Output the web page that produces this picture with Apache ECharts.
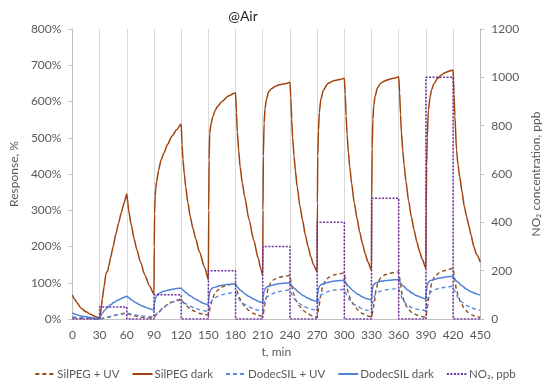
<!DOCTYPE html>
<html><head><meta charset="utf-8">
<script src="https://cdn.jsdelivr.net/npm/echarts@6/dist/echarts.min.js"></script>
<style>html,body{margin:0;padding:0;background:#fff}#c{width:550px;height:389px}</style>
</head><body><div id="c"></div>
<script>
const xTicks = [0,30,60,90,120,150,180,210,240,270,300,330,360,390,420,450];
const legendNames = ['SilPEG + UV','SilPEG dark','DodecSIL + UV','DodecSIL dark','NO\u2082, ppb'];

// NO2 concentration steps [start time, ppb]
const no2Steps = [[0,0],[30,50],[60,0],[90,100],[120,0],[150,200],[180,0],[210,300],[240,0],[270,400],[300,0],[330,500],[360,0],[390,1000],[420,0],[450,0]];

// SilPEG dark [t, %]
const silpegDark = [[0,66],[2,56],[5,45],[10,29],[15,20],[20,13],[25,7],[30,2],
[31,15],[32,35],[33,55],[35,90],[37,125],[38,130],[39,132],[40,145],[42,168],[45,200],[48,235],[51,265],[54,294],[57,320],[60,345],
[61,325],[62,300],[65,259],[68,222],[71,192],[75,158],[80,121],[85,92],[90,68],
[90.3,200],[90.7,290],[91.3,340],[92,360],[93,380],[95,410],[98,440],[101,458],[105,482],[110,505],[115,522],[120,538],
[121,480],[122,440],[123.5,400],[125,365],[127.5,320],[130,282],[133,250],[136,222],[140,186],[146,142],[150,108],
[150.4,300],[150.8,439],[151.5,512],[153,540],[155,558],[157.5,575],[160,586],[165,600],[172,615],[178,622],[180,624],
[181,570],[182,515],[183.5,465],[185,420],[187.5,375],[190,338],[195,273],[200,218],[205,168],[208,138],[210,120],
[210.3,300],[210.7,450],[211.5,540],[212.5,580],[214,605],[216.5,627],[220,636],[224,642],[228,646],[232,648],[236,650],[240,653],
[241,610],[242,550],[243,500],[244.5,450],[246,410],[248,365],[251,312],[254,272],[257,232],[260,200],[263,172],[266,150],[270,130],
[270.3,320],[270.7,450],[271.5,520],[272.5,570],[274,605],[277,632],[282,650],[289,658],[295,661],[300,664],
[301,620],[302,560],[303,510],[304.5,460],[306,420],[308,375],[311,320],[314,278],[317,240],[320,208],[323,180],[326,158],[330,135],
[330.3,330],[330.7,470],[331.5,550],[332.5,590],[334,615],[336.5,637],[340,650],[344,656],[348,660],[352,663],[356,665],[360,668],
[361,625],[362,565],[363,515],[364.5,465],[366,425],[368,380],[371,325],[374,282],[377,245],[380,213],[383,187],[386,165],[390,140],
[390.3,300],[390.8,420],[391.5,500],[392.8,577],[394.5,610],[396.2,632],[399,650],[403,664],[407,673],[411.7,680],[416,684],[420,687],
[420.5,660],[421,620],[422,560],[423.8,466],[425.5,425],[427.2,393],[430,350],[432.4,310],[435,282],[437.6,255],[440,230],[442.8,200],[446,178],[450,157]];

// SilPEG + UV [t, %]
const silpegUV = [[0,4],[10,2],[20,1],[30,0],
[35,2],[40,5],[45,9],[50,12],[55,15],[60,17],
[62,14],[65,11],[70,8],[75,5],[80,4],[85,3],[90,3],
[90.5,5],[92,10],[95,18],[100,30],[105,40],[110,47],[115,52],[120,55],
[122,47],[125,38],[130,28],[135,21],[140,16],[145,13],[150,11],
[150.5,14],[152,30],[154,50],[157,70],[160,79],[164,87],[168,91],[172,94],[176,96],[180,97],
[181,88],[182,75],[184,60],[187,45],[190,35],[195,23],[200,15],[205,10],[210,8],
[210.5,12],[212,35],[214,60],[216,86],[219,100],[223,110],[228,115],[234,118],[240,120],
[241,105],[242,90],[244,70],[247,50],[250,37],[255,23],[260,14],[265,8],[270,5],
[270.5,10],[272,35],[274,65],[276,88],[279,105],[283,115],[288,121],[294,125],[300,127],
[301,112],[302,97],[304,75],[307,54],[310,40],[315,25],[320,15],[325,9],[330,5],
[330.5,10],[332,30],[333,45],[335,80],[337,100],[340,113],[345,122],[350,126],[355,128],[360,130],
[361,115],[362,95],[364,65],[366,48],[368,37],[371,26],[375,17],[380,11],[385,7],[390,5],
[390.5,12],[392,35],[393,55],[395,85],[397,105],[400,118],[405,128],[410,133],[415,137],[420,140],
[421,125],[422,105],[424,78],[426,60],[429,42],[433,27],[437,17],[442,10],[446,6],[450,4]];

// DodecSIL + UV [t, %]
const dodecUV = [[0,6],[10,4],[20,2],[30,0],
[35,3],[40,6],[45,9],[50,12],[55,14],[60,16],
[62,15],[65,13],[70,11],[75,9],[80,8],[85,7],[90,6],
[90.5,8],[92,12],[95,20],[100,31],[105,40],[110,46],[115,50],[120,52],
[122,48],[125,42],[130,35],[135,30],[140,26],[145,23],[150,21],
[150.5,25],[151.5,38],[153,48],[155,54],[160,62],[165,67],[170,70],[175,72],[180,74],
[181,68],[183,58],[186,48],[190,40],[195,33],[200,28],[205,24],[210,22],
[210.5,30],[211.5,45],[213,56],[215,62],[220,69],[225,74],[230,77],[235,79],[240,80],
[241,73],[243,63],[246,52],[250,43],[255,35],[260,30],[265,26],[270,24],
[270.5,33],[271.5,50],[273,62],[275,68],[280,74],[285,78],[290,80],[295,81],[300,82],
[301,75],[303,64],[306,52],[310,42],[315,34],[320,28],[325,24],[330,21],
[330.5,30],[331.5,48],[333,62],[335,70],[340,77],[345,80],[350,82],[355,83],[360,84],
[361,76],[362.5,64],[365,50],[369,40],[373,33],[378,28],[384,25],[390,23],
[390.5,32],[391.5,52],[393,66],[395,74],[400,81],[405,85],[410,87],[415,89],[420,90],
[421,82],[423,70],[426,57],[430,46],[435,37],[440,31],[445,27],[450,24]];

// DodecSIL dark [t, %]
const dodecDark = [[0,17],[5,12],[10,8],[15,6],[20,4],[25,2],[30,0],
[30.5,4],[31.5,10],[33,16],[35,22],[38,30],[42,39],[46,46],[50,52],[55,58],[60,63],
[62,59],[65,53],[70,45],[75,38],[80,33],[85,28],[90,25],
[90.5,42],[91.5,56],[93,64],[95,70],[100,76],[105,79],[110,82],[115,84],[120,85],
[122,80],[125,73],[130,64],[135,56],[140,49],[145,43],[150,39],
[150.5,58],[151.5,74],[153,82],[155,86],[160,90],[165,93],[170,95],[175,96],[180,97],
[182,88],[185,80],[190,70],[195,62],[200,55],[205,49],[210,45],
[210.5,62],[211.5,78],[213,85],[215,89],[220,93],[225,96],[230,98],[235,99],[240,100],
[242,92],[245,84],[250,73],[255,64],[260,57],[265,52],[270,48],
[270.5,66],[271.5,84],[273,92],[275,96],[280,100],[285,103],[290,105],[295,106],[300,107],
[302,98],[305,89],[310,77],[315,68],[320,61],[325,56],[330,52],
[330.5,72],[331.5,90],[333,97],[335,100],[340,104],[345,106],[350,107],[355,108],[360,109],
[362,99],[365,91],[370,80],[375,71],[380,64],[385,59],[390,55],
[390.5,75],[391.5,94],[393,102],[395,106],[400,110],[405,113],[410,115],[415,117],[420,118],
[422,110],[425,102],[430,91],[435,82],[440,75],[445,70],[450,66]];

const FONT = 'Lato, "Open Sans", sans-serif';
const TXT = '#595959';
const chart = echarts.init(document.getElementById('c'), null, {renderer:'canvas'});
function lineSeries(name, data, color, type, width, yIdx) {
  return {name, type:'line', data, yAxisIndex:yIdx||0, showSymbol:false, symbol:'none',
    smooth:0.25, smoothMonotone:'x', animation:false,
    lineStyle:{color, width, type}, itemStyle:{color}};
}
chart.setOption({
  animation:false,
  textStyle:{fontFamily:FONT},
  title:{text:'@Air', left:238, top:4, textAlign:'center',
    textStyle:{fontFamily:FONT, fontSize:14, fontWeight:'normal', color:'#262626'}},
  grid:{left:57, right:58, top:29, bottom:70},
  legend:{bottom:4, left:'center', itemGap:12, itemWidth:20, itemHeight:8,
    itemStyle:{opacity:0},
    textStyle:{fontFamily:FONT, fontSize:11.5, color:TXT, padding:[0,0,0,-3]},
    data:legendNames},
  xAxis:{type:'value', min:0, max:450, interval:30,
    name:'t, min', nameLocation:'middle', nameGap:24,
    nameTextStyle:{fontFamily:FONT, fontSize:12, color:TXT},
    axisLine:{show:true, onZero:false, lineStyle:{color:'#BFBFBF', width:1}},
    axisTick:{show:false},
    axisLabel:{fontFamily:FONT, fontSize:12, color:TXT, margin:10},
    splitLine:{show:true, lineStyle:{color:'#D9D9D9', width:1}}},
  yAxis:[
    {type:'value', min:0, max:800, interval:100, position:'left',
     name:'Response, %', nameLocation:'middle', nameGap:48, nameRotate:90,
     nameTextStyle:{fontFamily:FONT, fontSize:12, color:TXT},
     axisLine:{show:true, lineStyle:{color:'#BFBFBF'}},
     axisTick:{show:true, length:4, lineStyle:{color:'#BFBFBF'}},
     axisLabel:{fontFamily:FONT, fontSize:12, color:TXT, formatter:'{value}%', margin:11},
     splitLine:{show:false}},
    {type:'value', min:0, max:1200, interval:200, position:'right',
     name:'NO\u2082 concentration, ppb', nameLocation:'middle', nameGap:44, nameRotate:90,
     nameTextStyle:{fontFamily:FONT, fontSize:12, color:TXT},
     axisLine:{show:true, lineStyle:{color:'#BFBFBF'}},
     axisTick:{show:true, length:4, lineStyle:{color:'#BFBFBF'}},
     axisLabel:{fontFamily:FONT, fontSize:12, color:TXT, margin:11, formatter:function(v){return String(v);}},
     splitLine:{show:false}}
  ],
  series:[
    lineSeries(legendNames[0], silpegUV, '#8E4A1C', [4,3], 1.4),
    lineSeries(legendNames[1], silpegDark, '#A0410D', 'solid', 1.5),
    lineSeries(legendNames[2], dodecUV, '#5B8BE0', [4,3], 1.4),
    lineSeries(legendNames[3], dodecDark, '#4F81D6', 'solid', 1.5),
    {name:legendNames[4], type:'line', yAxisIndex:1, data:no2Steps, step:'end',
     showSymbol:false, symbol:'none', animation:false,
     lineStyle:{color:'#7030A0', width:1.5, type:[2,1.5]}, itemStyle:{color:'#7030A0'}}
  ]
});
</script></body></html>
